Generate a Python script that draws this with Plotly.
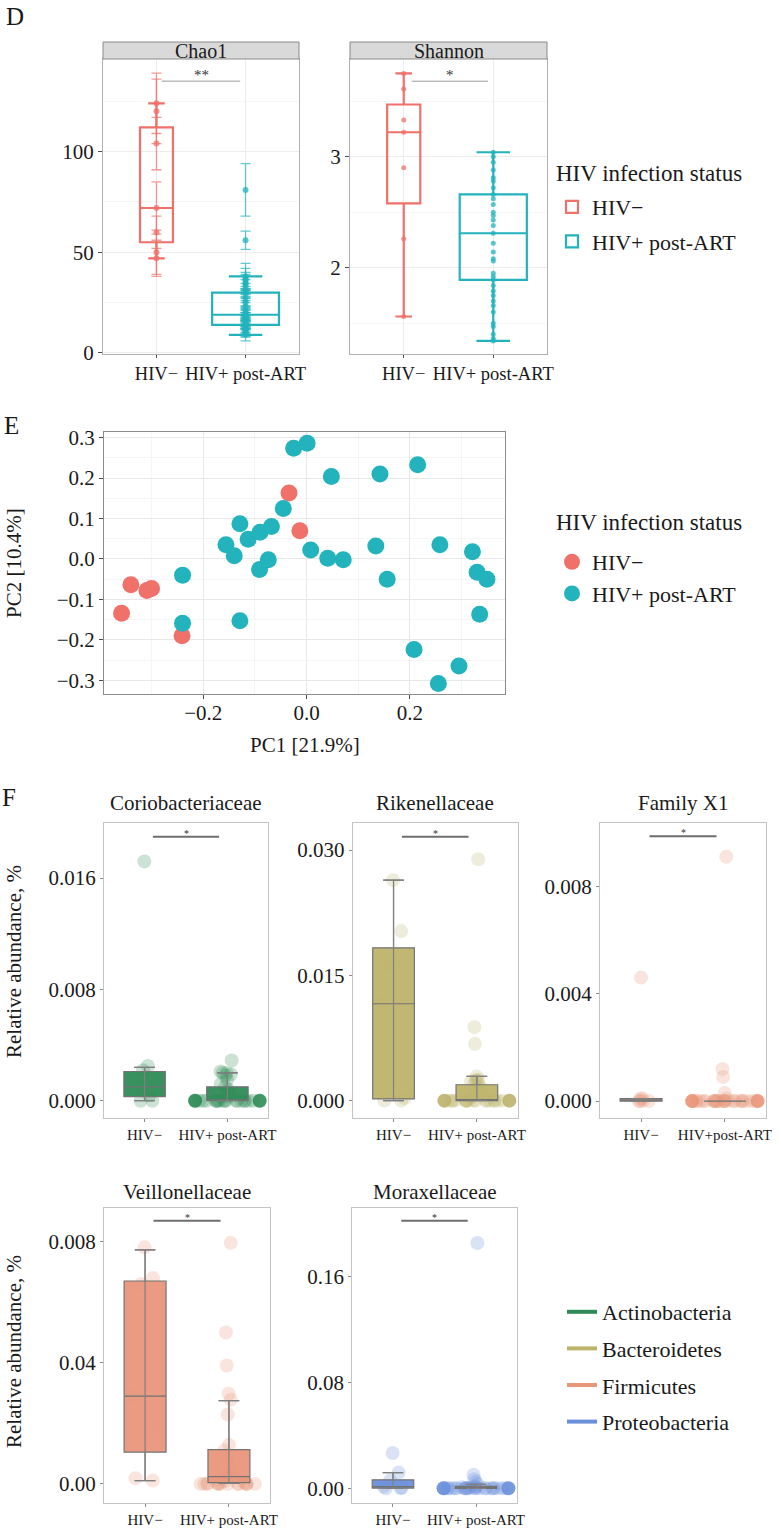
import plotly.graph_objects as go

W, H = 781, 1533
FONT = "Liberation Serif"
INK = "#1a1a1a"
RED = "#F0706A"
TEAL = "#22B3BC"

# ---------------- data ----------------
GROUPS = ["HIV−", "HIV+ post-ART"]
GROUPS_F3 = ["HIV−", "HIV+post-ART"]
GROUP_X = [1, 2]
LEGEND_TITLE = "HIV infection status"

# Panel D – Chao1 (per-sample estimate and its s.e.)
CHAO1_NEG = [124, 120, 104, 72, 60, 50, 47]
CHAO1_NEG_SE = [15, 16, 13, 13, 8, 11, 9]
CHAO1_POS = [81, 56, 38, 37, 36, 35, 34, 33, 31, 30, 28, 26, 25, 23, 21, 20, 19,
             19, 18, 18, 17, 16, 15, 14, 14, 13, 12, 12, 11, 11, 10, 10, 9]
CHAO1_POS_SE = [13, 4.5, 6.5, 5, 4, 4, 4, 3.5, 3.5, 3, 3, 3, 3, 3, 2.5, 2.5, 2.5,
                2, 2, 2, 2, 2, 2, 2, 2, 2, 2, 2, 2, 2, 2, 2, 3]
CHAO1_Q1 = [55, 14]
CHAO1_MED = [72, 19]
CHAO1_Q3 = [112, 30]
CHAO1_LO = [47, 9]
CHAO1_HI = [124, 38]

# Panel D – Shannon
SHANNON_NEG = [3.75, 3.61, 3.33, 3.22, 2.90, 2.26, 1.56]
SHANNON_POS = [3.04, 3.00, 2.95, 2.88, 2.81, 2.78, 2.72, 2.66, 2.62, 2.57, 2.50,
               2.47, 2.43, 2.38, 2.31, 2.22, 2.14, 2.08, 2.06, 1.95, 1.92, 1.89,
               1.84, 1.79, 1.75, 1.70, 1.66, 1.60, 1.50, 1.47, 1.40, 1.36, 1.34]
SHANNON_Q1 = [2.58, 1.89]
SHANNON_MED = [3.22, 2.31]
SHANNON_Q3 = [3.47, 2.66]
SHANNON_LO = [1.56, 1.34]
SHANNON_HI = [3.75, 3.04]

# Panel E – PCA
PC1_NEG = [-0.358, -0.340, -0.309, -0.300, -0.241, -0.034, -0.013]
PC2_NEG = [-0.134, -0.064, -0.078, -0.073, -0.190, 0.163, 0.070]
PC1_POS = [-0.240, -0.240, -0.129, -0.156, -0.140, -0.129, -0.113, -0.090, -0.068, -0.091,
           -0.074, -0.045, -0.025, 0.001, 0.008, 0.041, 0.071, 0.048, 0.134, 0.142,
           0.156, 0.215, 0.208, 0.258, 0.255, 0.295, 0.321, 0.330, 0.349, 0.335]
PC2_POS = [-0.040, -0.159, -0.153, 0.035, 0.008, 0.087, 0.049, 0.066, 0.080, -0.026,
           -0.002, 0.125, 0.274, 0.286, 0.022, 0.002, -0.002, 0.204, 0.032, 0.210,
           -0.050, 0.233, -0.224, 0.035, -0.308, -0.265, 0.018, -0.033, -0.050, -0.137]

# Panel F – relative abundance
PHYLA = ["Actinobacteria", "Bacteroidetes", "Firmicutes", "Proteobacteria"]
PHYLA_COLORS = ["#2E8B57", "#BDB36B", "#E9967A", "#6A8FDB"]

CORIO_NEG = [0.0172, 0.0025, 0.0022, 0.0010, 0.0004, 0.0000, 0.0000]
CORIO_POS = [0.0029, 0.0021, 0.0020, 0.0020, 0.0019, 0.0018, 0.0015, 0.0012, 0.0010,
             0.0008, 0.0005, 0.0003, 0.0, 0.0, 0.0, 0.0, 0.0, 0.0, 0.0, 0.0, 0.0,
             0.0, 0.0, 0.0, 0.0, 0.0, 0.0, 0.0, 0.0, 0.0, 0.0]
CORIO_Q1 = [0.0003, 0.0000]
CORIO_MED = [0.0010, 0.00003]
CORIO_Q3 = [0.0021, 0.0010]
CORIO_LO = [0.0000, 0.0000]
CORIO_HI = [0.0024, 0.0020]

RIKEN_NEG = [0.0264, 0.0203, 0.0161, 0.0116, 0.0003, 0.0000, 0.0000]
RIKEN_POS = [0.0289, 0.0088, 0.0068, 0.0029, 0.0025, 0.0024, 0.0024, 0.0023, 0.0020,
             0.0019, 0.0015, 0.0010, 0.0005, 0.0, 0.0, 0.0, 0.0, 0.0, 0.0, 0.0, 0.0,
             0.0, 0.0, 0.0, 0.0, 0.0, 0.0, 0.0, 0.0, 0.0, 0.0]
RIKEN_Q1 = [0.0002, 0.0000]
RIKEN_MED = [0.0116, 0.00005]
RIKEN_Q3 = [0.0183, 0.0019]
RIKEN_LO = [0.0000, 0.0000]
RIKEN_HI = [0.0264, 0.0029]

FAMX1_NEG = [0.0046, 0.0001, 0.0001, 0.0000, 0.0000, 0.0000, 0.0000]
FAMX1_POS = [0.0091, 0.0012, 0.0009, 0.0003, 0.0001, 0.0, 0.0, 0.0, 0.0, 0.0, 0.0,
             0.0, 0.0, 0.0, 0.0, 0.0, 0.0, 0.0, 0.0, 0.0, 0.0, 0.0, 0.0, 0.0, 0.0,
             0.0, 0.0, 0.0, 0.0, 0.0, 0.0]
FAMX1_Q1 = [0.0000, 0.0000]
FAMX1_MED = [0.00004, 0.0000]
FAMX1_Q3 = [0.00009, 0.0000]
FAMX1_LO = [0.0000, 0.0000]
FAMX1_HI = [0.00009, 0.0000]

VEIL_NEG = [0.0781, 0.0680, 0.0660, 0.0290, 0.0196, 0.0019, 0.0011]
VEIL_POS = [0.0796, 0.0500, 0.0391, 0.0298, 0.0278, 0.0229, 0.0129, 0.0110, 0.0080,
            0.0057, 0.0040, 0.0030, 0.0024, 0.0015, 0.0010, 0.0005, 0.0003, 0.0002,
            0.0, 0.0, 0.0, 0.0, 0.0, 0.0, 0.0, 0.0, 0.0, 0.0, 0.0, 0.0, 0.0]
VEIL_Q1 = [0.0105, 0.0004]
VEIL_MED = [0.0290, 0.0024]
VEIL_Q3 = [0.0670, 0.0113]
VEIL_LO = [0.0011, 0.0002]
VEIL_HI = [0.0773, 0.0275]

MORAX_NEG = [0.0267, 0.0119, 0.0060, 0.0013, 0.0005, 0.0000, 0.0000]
MORAX_POS = [0.1854, 0.0102, 0.0069, 0.0050, 0.0030, 0.0015, 0.0010, 0.0008, 0.0005,
             0.0, 0.0, 0.0, 0.0, 0.0, 0.0, 0.0, 0.0, 0.0, 0.0, 0.0, 0.0, 0.0, 0.0,
             0.0, 0.0, 0.0, 0.0, 0.0, 0.0, 0.0, 0.0]
MORAX_Q1 = [0.0002, 0.0000]
MORAX_MED = [0.0013, 0.0008]
MORAX_Q3 = [0.0064, 0.0015]
MORAX_LO = [0.0000, 0.0000]
MORAX_HI = [0.0119, 0.0030]

# value of the darker zero-abundance points shown at the edges of the HIV+ group
DARK_ZERO = [0.0, 0.0]

# ---------------- layout helpers ----------------
def xd(a, b):
    return [a / W, b / W]


def yd(top, bottom):
    return [1 - bottom / H, 1 - top / H]


def to_px(px):
    return px / W


def to_py(py):
    return 1 - py / H


def rgba(hexc, a):
    hexc = hexc.lstrip("#")
    r, g, b = int(hexc[0:2], 16), int(hexc[2:4], 16), int(hexc[4:6], 16)
    return f"rgba({r},{g},{b},{a})"


fig = go.Figure()


def add(tr, k):
    s = "" if k == 1 else str(k)
    tr.update(xaxis="x" + s, yaxis="y" + s)
    fig.add_trace(tr)


# ---------------- Panel D ----------------
D_BOX_W = [0.37, 0.75]
for g in range(2):
    col = [RED, TEAL][g]
    for k, (q1, md, q3, lo, hi) in ((1, (CHAO1_Q1, CHAO1_MED, CHAO1_Q3, CHAO1_LO, CHAO1_HI)),
                                    (2, (SHANNON_Q1, SHANNON_MED, SHANNON_Q3, SHANNON_LO, SHANNON_HI))):
        add(go.Box(x=[GROUP_X[g]], q1=[q1[g]], median=[md[g]], q3=[q3[g]],
                   lowerfence=[lo[g]], upperfence=[hi[g]], width=D_BOX_W[g],
                   fillcolor="rgba(255,255,255,0)", line=dict(color=col, width=2.2),
                   boxpoints=False, name=GROUPS[g], legend="legend",
                   legendgroup="d" + str(g), showlegend=(k == 1), hoverinfo="skip"), k)

for g, (vals, se) in enumerate(((CHAO1_NEG, CHAO1_NEG_SE), (CHAO1_POS, CHAO1_POS_SE))):
    col = [RED, TEAL][g]
    add(go.Scatter(x=[GROUP_X[g]] * len(vals), y=vals, mode="markers",
                   marker=dict(color=rgba(col, 0.75), size=6),
                   error_y=dict(type="data", array=se, color=rgba(col, 0.7),
                                thickness=1.3, width=5),
                   showlegend=False, hoverinfo="skip"), 1)

for g, vals in enumerate((SHANNON_NEG, SHANNON_POS)):
    col = [RED, TEAL][g]
    add(go.Scatter(x=[GROUP_X[g]] * len(vals), y=vals, mode="markers",
                   marker=dict(color=rgba(col, 0.75), size=5),
                   showlegend=False, hoverinfo="skip"), 2)

# ---------------- Panel E ----------------
add(go.Scatter(x=PC1_NEG, y=PC2_NEG, mode="markers", name=GROUPS[0],
               marker=dict(color=RED, size=17), legend="legend2", legendgroup="e0",
               hoverinfo="skip"), 3)
add(go.Scatter(x=PC1_POS, y=PC2_POS, mode="markers", name=GROUPS[1],
               marker=dict(color=TEAL, size=17), legend="legend2", legendgroup="e1",
               hoverinfo="skip"), 3)

# ---------------- Panel F ----------------
F_PANELS = [
    dict(k=4, title="Coriobacteriaceae", phylum=0, data=(CORIO_NEG, CORIO_POS),
         stats=(CORIO_Q1, CORIO_MED, CORIO_Q3, CORIO_LO, CORIO_HI), dark=True),
    dict(k=5, title="Rikenellaceae", phylum=1, data=(RIKEN_NEG, RIKEN_POS),
         stats=(RIKEN_Q1, RIKEN_MED, RIKEN_Q3, RIKEN_LO, RIKEN_HI), dark=True),
    dict(k=6, title="Family X1", phylum=2, data=(FAMX1_NEG, FAMX1_POS),
         stats=(FAMX1_Q1, FAMX1_MED, FAMX1_Q3, FAMX1_LO, FAMX1_HI), dark=True),
    dict(k=7, title="Veillonellaceae", phylum=2, data=(VEIL_NEG, VEIL_POS),
         stats=(VEIL_Q1, VEIL_MED, VEIL_Q3, VEIL_LO, VEIL_HI), dark=False),
    dict(k=8, title="Moraxellaceae", phylum=3, data=(MORAX_NEG, MORAX_POS),
         stats=(MORAX_Q1, MORAX_MED, MORAX_Q3, MORAX_LO, MORAX_HI), dark=True),
]
EDGE = 0.39
JITTER = [0.45, 1.0]
for p in F_PANELS:
    col = PHYLA_COLORS[p["phylum"]]
    q1, md, q3, lo, hi = p["stats"]
    for g in range(2):
        vals = p["data"][g]
        add(go.Box(x=[GROUP_X[g]] * len(vals), y=vals, boxpoints="all", jitter=JITTER[g],
                   pointpos=0, width=0.8, fillcolor="rgba(0,0,0,0)",
                   line=dict(width=0, color="rgba(0,0,0,0)"),
                   marker=dict(color=col, size=14, opacity=0.25, line=dict(width=0)),
                   showlegend=False, hoverinfo="skip"), p["k"])
    for g in range(2):
        if hi[g] > lo[g]:
            add(go.Scatter(x=[GROUP_X[g]], y=[md[g]], mode="markers",
                           marker=dict(size=1, color="rgba(0,0,0,0)"),
                           error_y=dict(type="data", symmetric=False, array=[hi[g] - md[g]],
                                        arrayminus=[md[g] - lo[g]], color="#808080",
                                        thickness=1.2, width=10),
                           showlegend=False, hoverinfo="skip"), p["k"])
        add(go.Box(x=[GROUP_X[g]], q1=[q1[g]], median=[md[g]], q3=[q3[g]],
                   lowerfence=[lo[g]], upperfence=[hi[g]], width=0.5,
                   fillcolor=rgba(col, 0.95), line=dict(color="#737373", width=1.2),
                   boxpoints=False, showlegend=False, hoverinfo="skip"), p["k"])
    if p["dark"]:
        add(go.Scatter(x=[GROUP_X[1] - EDGE, GROUP_X[1] + EDGE], y=DARK_ZERO, mode="markers",
                       marker=dict(color=rgba(col, 0.9), size=14),
                       showlegend=False, hoverinfo="skip"), p["k"])

for i, name in enumerate(PHYLA):
    add(go.Scatter(x=[None], y=[None], mode="lines", name=name,
                   line=dict(color=PHYLA_COLORS[i], width=4), legend="legend3",
                   legendgroup="p" + str(i)), 4)

# ---------------- axes ----------------
TICKFONT = dict(family=FONT, size=21, color=INK)
DX_FONT = dict(family=FONT, size=18.5, color=INK)


def base_axis(linecolor, tickfont=TICKFONT):
    return dict(showline=True, mirror=True, linecolor=linecolor, linewidth=1,
                ticks="outside", ticklen=4, tickcolor="#4d4d4d", tickwidth=1,
                tickfont=tickfont, zeroline=False, showgrid=False, fixedrange=True,
                automargin=False, tickangle=0)


layout_axes = {}
# D Chao1
layout_axes["xaxis"] = dict(base_axis("#b0b0b0", DX_FONT), domain=xd(103, 299), anchor="y",
                            range=[0.4, 2.6], tickvals=GROUP_X, ticktext=GROUPS,
                            showgrid=True, gridcolor="#ececec", ticklen=3)
layout_axes["yaxis"] = dict(base_axis("#b0b0b0"), domain=yd(59, 354), anchor="x",
                            range=[-0.5, 146], tickvals=[0, 50, 100], showgrid=True,
                            gridcolor="#ececec",
                            minor=dict(showgrid=True, gridcolor="#f6f6f6", tickvals=[25, 75, 125]))
# D Shannon
layout_axes["xaxis2"] = dict(base_axis("#b0b0b0", DX_FONT), domain=xd(350, 547), anchor="y2",
                             range=[0.4, 2.6], tickvals=GROUP_X, ticktext=GROUPS,
                             showgrid=True, gridcolor="#ececec", ticklen=3)
layout_axes["yaxis2"] = dict(base_axis("#b0b0b0"), domain=yd(59, 354), anchor="x2",
                             range=[1.222, 3.88], tickvals=[2, 3], showgrid=True,
                             gridcolor="#ececec",
                             minor=dict(showgrid=True, gridcolor="#f6f6f6", tickvals=[1.5, 2.5, 3.5]))
# E
layout_axes["xaxis3"] = dict(base_axis("#8c8c8c"), domain=xd(104, 505), anchor="y3",
                             range=[-0.392, 0.384], tickvals=[-0.2, 0.0, 0.2],
                             tickformat=".1f", showgrid=True, gridcolor="#e8e8e8",
                             ticklabelstandoff=-4,
                             minor=dict(showgrid=True, gridcolor="#f5f5f5",
                                        tickvals=[-0.3, -0.1, 0.1, 0.3]))
layout_axes["yaxis3"] = dict(base_axis("#8c8c8c"), domain=yd(432, 694), anchor="x3",
                             range=[-0.334, 0.314],
                             tickvals=[-0.3, -0.2, -0.1, 0.0, 0.1, 0.2, 0.3],
                             tickformat=".1f", showgrid=True, gridcolor="#e8e8e8",
                             minor=dict(showgrid=True, gridcolor="#f5f5f5",
                                        tickvals=[-0.25, -0.15, -0.05, 0.05, 0.15, 0.25]))

FX_FONT = dict(family=FONT, size=15, color=INK)
FY_FONT = dict(family=FONT, size=21, color=INK)
F_GEOM = {
    4: dict(x=(104, 268), y=(823, 1118), yr=[-0.00124, 0.01996], tv=[0, 0.008, 0.016],
            tt=["0.000", "0.008", "0.016"], xt=GROUPS),
    5: dict(x=(352.7, 517.7), y=(823, 1118), yr=[-0.00208, 0.03324], tv=[0, 0.015, 0.030],
            tt=["0.000", "0.015", "0.030"], xt=GROUPS),
    6: dict(x=(600, 766), y=(823, 1118), yr=[-0.00063, 0.01036], tv=[0, 0.004, 0.008],
            tt=["0.000", "0.004", "0.008"], xt=GROUPS_F3),
    7: dict(x=(104, 270), y=(1208, 1503), yr=[-0.0063, 0.0911], tv=[0, 0.04, 0.08],
            tt=["0.00", "0.04", "0.008"], xt=GROUPS),
    8: dict(x=(352.3, 516.7), y=(1208, 1503), yr=[-0.0111, 0.2119], tv=[0, 0.08, 0.16],
            tt=["0.00", "0.08", "0.16"], xt=GROUPS),
}
for k, gm in F_GEOM.items():
    layout_axes[f"xaxis{k}"] = dict(base_axis("#c4c4c4", FX_FONT), domain=xd(*gm["x"]),
                                    anchor=f"y{k}", range=[0.51, 2.49], tickvals=GROUP_X,
                                    ticktext=gm["xt"], tickcolor="#8a8a8a", ticklen=3)
    layout_axes[f"yaxis{k}"] = dict(base_axis("#c4c4c4", FY_FONT), domain=yd(*gm["y"]),
                                    anchor=f"x{k}", range=gm["yr"], tickvals=gm["tv"],
                                    ticktext=gm["tt"], tickcolor="#8a8a8a", ticklen=3)

# ---------------- shapes / annotations ----------------
shapes = []
annotations = []

# facet strips
for (a, b), label in (((103, 299), "Chao1"), ((350, 547), "Shannon")):
    shapes.append(dict(type="rect", xref="paper", yref="paper", x0=to_px(a), x1=to_px(b),
                       y0=to_py(59), y1=to_py(42), fillcolor="#d9d9d9",
                       line=dict(color="#8a8a8a", width=1), layer="above"))
    annotations.append(dict(xref="paper", yref="paper", x=to_px((a + b) / 2), y=to_py(50.5),
                            text=label, showarrow=False, xanchor="center", yanchor="middle",
                            font=dict(family=FONT, size=20, color=INK)))

# significance brackets: (axis k, x0, x1, y, label, line colour, width, font size)
SIG = [
    (1, 1.06, 1.94, 135, "**", "#9a9a9a", 1, 15),
    (2, 1.09, 1.94, 3.68, "*", "#9a9a9a", 1, 15),
    (4, 1.1, 1.9, 0.01898, "*", "#6e6e6e", 2, 10),
    (5, 1.1, 1.9, 0.0316, "*", "#6e6e6e", 2, 10),
    (6, 1.1, 1.9, 0.00987, "*", "#6e6e6e", 2, 10),
    (7, 1.1, 1.9, 0.0869, "*", "#6e6e6e", 2, 10),
    (8, 1.1, 1.9, 0.2023, "*", "#6e6e6e", 2, 10),
]
for k, x0, x1, yv, lab, lc, lw, fs in SIG:
    s = "" if k == 1 else str(k)
    shapes.append(dict(type="line", xref="x" + s, yref="y" + s, x0=x0, x1=x1, y0=yv, y1=yv,
                       line=dict(color=lc, width=lw)))
    annotations.append(dict(xref="x" + s, yref="y" + s, x=(x0 + x1) / 2, y=yv, text=lab,
                            showarrow=False, yanchor="bottom", yshift=-4,
                            font=dict(family=FONT, size=fs, color="#333333")))

# F panel titles
for p in F_PANELS:
    gm = F_GEOM[p["k"]]
    ty = 803 if gm["y"][0] < 1000 else 1192
    annotations.append(dict(xref="paper", yref="paper", x=to_px(sum(gm["x"]) / 2), y=to_py(ty),
                            text=p["title"], showarrow=False, xanchor="center",
                            yanchor="middle", font=dict(family=FONT, size=21, color=INK)))

# panel letters
for lab, (px, py) in (("D", (15, 16)), ("E", (11, 425)), ("F", (9, 797))):
    annotations.append(dict(xref="paper", yref="paper", x=to_px(px), y=to_py(py), text=lab,
                            showarrow=False, xanchor="center", yanchor="middle",
                            font=dict(family=FONT, size=25, color=INK)))

# legend titles (D and E)
LEGTITLE = dict(family=FONT, size=23, color=INK)
for ty in (173, 523):
    annotations.append(dict(xref="paper", yref="paper", x=to_px(554), y=to_py(ty),
                            text=LEGEND_TITLE, showarrow=False, xanchor="left",
                            yanchor="middle", font=LEGTITLE))

# axis titles
AXT = dict(family=FONT, size=21, color=INK)
annotations += [
    dict(xref="paper", yref="paper", x=to_px(14), y=to_py(563), text="PC2 [10.4%]",
         textangle=-90, showarrow=False, xanchor="center", yanchor="middle", font=AXT),
    dict(xref="paper", yref="paper", x=to_px(305), y=to_py(745), text="PC1 [21.9%]",
         showarrow=False, xanchor="center", yanchor="middle", font=AXT),
    dict(xref="paper", yref="paper", x=to_px(14), y=to_py(962), text="Relative abundance, %",
         textangle=-90, showarrow=False, xanchor="center", yanchor="middle", font=AXT),
    dict(xref="paper", yref="paper", x=to_px(14), y=to_py(1352), text="Relative abundance, %",
         textangle=-90, showarrow=False, xanchor="center", yanchor="middle", font=AXT),
]

LEGFONT = dict(family=FONT, size=22, color=INK)
fig.update_layout(
    width=W, height=H, margin=dict(l=0, r=0, t=0, b=0, autoexpand=False),
    paper_bgcolor="white", plot_bgcolor="white",
    font=dict(family=FONT, color=INK),
    boxmode="overlay",
    shapes=shapes, annotations=annotations,
    legend=dict(x=to_px(552), y=to_py(186), xanchor="left", yanchor="top",
                font=LEGFONT, bgcolor="rgba(0,0,0,0)", traceorder="grouped",
                tracegroupgap=3),
    legend2=dict(x=to_px(552), y=to_py(541), xanchor="left", yanchor="top",
                 font=LEGFONT, bgcolor="rgba(0,0,0,0)", itemsizing="trace",
                 traceorder="grouped", tracegroupgap=0),
    legend3=dict(x=to_px(562), y=to_py(1291), xanchor="left", yanchor="top",
                 font=LEGFONT, bgcolor="rgba(0,0,0,0)", tracegroupgap=5,
                 traceorder="grouped"),
    **layout_axes,
)

fig.write_html("out.html", config={"displayModeBar": False},
               post_script="document.body.style.margin='0px';")
